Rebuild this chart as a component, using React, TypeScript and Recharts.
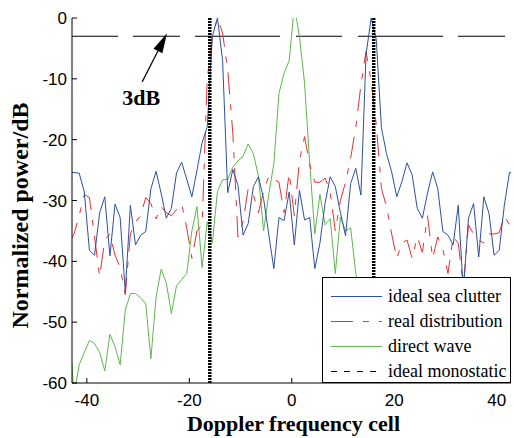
import React from "react";
import { LineChart, Line, XAxis, YAxis, ReferenceLine, Legend, Label } from "recharts";

// Doppler cells (half-cell grid)
const cells = [
  -43.5, -42.5, -41.5, -40.5, -39.5, -38.5, -37.5, -36.5, -35.5, -34.5,
  -33.5, -32.5, -31.5, -30.5, -29.5, -28.5, -27.5, -26.5, -25.5, -24.5,
  -23.5, -22.5, -21.5, -20.5, -19.5, -18.5, -17.5, -16.5, -15.5, -14.5,
  -13.5, -12.5, -11.5, -10.5, -9.5, -8.5, -7.5, -6.5, -5.5, -4.5,
  -3.5, -2.5, -1.5, -0.5, 0.5, 1.5, 2.5, 3.5, 4.5, 5.5,
  6.5, 7.5, 8.5, 9.5, 10.5, 11.5, 12.5, 13.5, 14.5, 15.5,
  16.5, 17.5, 18.5, 19.5, 20.5, 21.5, 22.5, 23.5, 24.5, 25.5,
  26.5, 27.5, 28.5, 29.5, 30.5, 31.5, 32.5, 33.5, 34.5, 35.5,
  36.5, 37.5, 38.5, 39.5, 40.5, 41.5, 42.5, 43.5,
];

const idealSeaClutter = [
  -25.3, -25.4, -25.5, -28.6, -38.2, -39, -32, -29.4, -39.1, -30.6,
  -32.8, -45, -30.8, -37.3, -35.7, -35.1, -28.1, -25.2, -28.8, -32.9,
  -31.3, -25.5, -23.7, -26.5, -29.4, -25, -20.5, -17.9, -3, 0,
  -7, -28.7, -24.9, -27.5, -35.7, -33.8, -27.7, -26.1, -29.7, -35.5,
  -41.2, -32.8, -33.3, -28.6, -37.3, -28.3, -33.2, -32.8, -41.2, -37,
  -30.5, -26.1, -27.7, -32, -35.8, -27.2, -24.7, -29.1, -6, 0,
  -3.5, -18, -22.3, -25.3, -29.4, -26.9, -23.8, -25.8, -31.3, -32.9,
  -28.8, -25.3, -28, -35.1, -35.7, -37.3, -30.8, -45, -32.9, -30.5,
  -39.3, -29.4, -32.1, -39, -38.2, -30.8, -25.4, -25.4,
];

const realDistribution = [
  -37, -35.5, -32.5, -29, -29.5, -36, -42.5, -36.5, -35.5, -39,
  -41, -45.5, -35.5, -33.5, -32.5, -29.5, -30.5, -33, -31, -32,
  -32.5, -31.5, -30.5, -34.5, -39.5, -35, -34, -10, -3, 0,
  -2.5, -8.5, -19, -36, -33.5, -28, -29, -32, -28.5, -26,
  -26.5, -27, -32, -25.5, -32.5, -23.5, -19.5, -24, -27, -27,
  -26.3, -28.5, -35, -30, -27, -23, -18, -11, -5.5, -10.5,
  -17.5, -28, -31, -35.5, -39.5, -37, -36.5, -39.5, -36, -38.5,
  -32.5, -39.5, -36, -38, -42, -36, -37, -44, -34, -35.5,
  -36.5, -37, -35.5, -35.5, -35.3, -32.5, -34, -36,
];

const directWave = [
  -50, -62, -57, -55, -53, -53.5, -55, -58, -52, -54,
  -57, -48, -45.3, -45.3, -46, -47, -56, -46, -41.3, -43.5,
  -48.6, -44, -43, -42, -35, -31, -41, -33.5, -37, -28.5,
  -26.6, -26.5, -24.5, -23.5, -22.7, -20.7, -22.3, -26, -35, -29,
  -24, -12.4, -9.1, -7, 2, -3, -10.7, -23.8, -35.5, -29,
  -34, -33, -42, -32.7, -35, -34.5, -42, -46, -48, -52,
  -49, -55, -51, -56, -53, -58, -54, -57, -52, -55,
  -59, -54, -57, -53, -56, -58, -55, -52, -57, -54,
  -58, -53, -55, -57, -54, -56, -53, -55,
];

const monostaticCells = [-16, 16];
const monostaticLevels = [-60, 0];
const threeDbLevel = -3;
const arrowTail = { x: -29.2, y: -10.5 };
const arrowTip = { x: -24.35, y: -2.5 };

const xTicks = [-40, -20, 0, 20, 40];
const yTicks = [0, -10, -20, -30, -40, -50, -60];
const xDomain = [-42.9, 42.8];
const yDomain = [-60, 0];

const BLUE = "#2f4fa6";
const RED = "#f02c2c";
const GREEN = "#5cb84a";
const SERIF = "'Liberation Serif', 'Times New Roman', serif";
const SANS = "'Liberation Sans', Arial, sans-serif";

const toSeries = (values: number[]) => cells.map((x, i) => ({ x, y: values[i] }));

const legendItems = [
  { name: "ideal sea clutter", color: BLUE, dash: undefined },
  { name: "real distribution", color: RED, dash: "22 10 6 10" },
  { name: "direct wave", color: GREEN, dash: undefined },
  { name: "ideal monostatic", color: "#000", dash: "6 7" },
];

function LegendBox() {
  return (
    <div
      style={{
        width: 189,
        height: 106,
        boxSizing: "border-box",
        border: "1px solid #000",
        background: "#fff",
        position: "relative",
      }}
    >
      {legendItems.map((item, i) => (
        <div
          key={item.name}
          style={{ position: "absolute", left: 0, top: 5.5 + i * 25, height: 25, display: "flex", alignItems: "center" }}
        >
          <svg width={60} height={25} style={{ display: "block" }}>
            <line x1={8} x2={59} y1={12.5} y2={12.5} stroke={item.color} strokeWidth={1} strokeDasharray={item.dash} />
          </svg>
          <span style={{ fontFamily: SERIF, fontSize: 18, marginLeft: 5, color: "#000", whiteSpace: "nowrap", lineHeight: "25px" }}>
            {item.name}
          </span>
        </div>
      ))}
    </div>
  );
}

const ArrowShape = (props: any) => {
  const { x1, y1, x2, y2 } = props;
  const dx = x2 - x1;
  const dy = y2 - y1;
  const len = Math.hypot(dx, dy);
  const ux = dx / len;
  const uy = dy / len;
  const headLen = 20;
  const headHalf = 5;
  const bx = x2 - ux * headLen;
  const by = y2 - uy * headLen;
  const px = -uy;
  const py = ux;
  return (
    <g>
      <line x1={x1} y1={y1} x2={bx} y2={by} stroke="#000" strokeWidth={1.2} />
      <polygon
        points={`${x2},${y2} ${bx + px * headHalf},${by + py * headHalf} ${bx - px * headHalf},${by - py * headHalf}`}
        fill="#000"
      />
      <text x={x1 - 20} y={y1 + 23} fontFamily={SERIF} fontWeight="bold" fontSize={22} fill="#000">
        3dB
      </text>
    </g>
  );
};

export default function App() {
  const monoLeft = monostaticLevels.map((y) => ({ x: monostaticCells[0], y }));
  const monoRight = monostaticLevels.map((y) => ({ x: monostaticCells[1], y }));
  const tickStyle = { fill: "#000", fontSize: 17, fontFamily: SANS };

  return (
    <div style={{ position: "absolute", left: 0, top: 0, background: "#fff" }}>
      <LineChart width={514} height={438} margin={{ top: 18, right: 3, bottom: 0, left: 0 }}>
        <XAxis
          xAxisId="b"
          type="number"
          dataKey="x"
          domain={xDomain}
          allowDataOverflow
          ticks={xTicks}
          interval={0}
          height={55}
          tickSize={-5}
          tickMargin={16}
          tick={tickStyle}
          axisLine={{ stroke: "#000" }}
          tickLine={{ stroke: "#000" }}
        >
          <Label
            content={(p: any) => (
              <text
                x={p.viewBox.x + p.viewBox.width / 2 + 2}
                y={p.viewBox.y + 48}
                textAnchor="middle"
                fontFamily={SERIF}
                fontWeight="bold"
                fontSize={22}
                fill="#000"
              >
                Doppler frequency cell
              </text>
            )}
          />
        </XAxis>
        <XAxis
          xAxisId="t"
          orientation="top"
          type="number"
          dataKey="x"
          domain={xDomain}
          allowDataOverflow
          ticks={xTicks}
          interval={0}
          height={0}
          tickSize={-5}
          tick={false}
          axisLine={{ stroke: "#000" }}
          tickLine={{ stroke: "#000" }}
        />
        <YAxis
          yAxisId="l"
          type="number"
          domain={yDomain}
          allowDataOverflow
          ticks={yTicks}
          interval={0}
          width={72}
          tickSize={-5}
          tickMargin={10}
          tick={tickStyle}
          axisLine={{ stroke: "#000" }}
          tickLine={{ stroke: "#000" }}
        >
          <Label
            content={(p: any) => {
              const cx = 28;
              const cy = p.viewBox.y + p.viewBox.height / 2 + 15;
              return (
                <text
                  x={cx}
                  y={cy}
                  transform={`rotate(-90 ${cx} ${cy})`}
                  textAnchor="middle"
                  fontFamily={SERIF}
                  fontWeight="bold"
                  fontSize={24}
                  fill="#000"
                >
                  Normalized power/dB
                </text>
              );
            }}
          />
        </YAxis>
        <YAxis
          yAxisId="r"
          orientation="right"
          type="number"
          domain={yDomain}
          allowDataOverflow
          ticks={yTicks}
          interval={0}
          width={0}
          tickSize={-5}
          tick={false}
          axisLine={{ stroke: "#000" }}
          tickLine={{ stroke: "#000" }}
        />

        <ReferenceLine
          xAxisId="b"
          yAxisId="l"
          y={threeDbLevel}
          stroke="#000"
          strokeWidth={1}
          strokeDasharray="46 15 47 15 85 16 46 16 85 15 47 15"
        />

        <Line
          xAxisId="b"
          yAxisId="l"
          data={toSeries(directWave)}
          dataKey="y"
          type="linear"
          stroke={GREEN}
          strokeWidth={1}
          dot={false}
          activeDot={false}
          isAnimationActive={false}
        />
        <Line
          xAxisId="b"
          yAxisId="l"
          data={toSeries(realDistribution)}
          dataKey="y"
          type="linear"
          stroke={RED}
          strokeWidth={1}
          strokeDasharray="22 10 6 10"
          dot={false}
          activeDot={false}
          isAnimationActive={false}
        />
        <Line
          xAxisId="b"
          yAxisId="l"
          data={toSeries(idealSeaClutter)}
          dataKey="y"
          type="linear"
          stroke={BLUE}
          strokeWidth={1}
          dot={false}
          activeDot={false}
          isAnimationActive={false}
        />
        <Line
          xAxisId="b"
          yAxisId="l"
          data={monoLeft}
          dataKey="y"
          type="linear"
          stroke="#000"
          strokeWidth={3.5}
          strokeDasharray="2 1"
          dot={false}
          activeDot={false}
          isAnimationActive={false}
        />
        <Line
          xAxisId="b"
          yAxisId="l"
          data={monoRight}
          dataKey="y"
          type="linear"
          stroke="#000"
          strokeWidth={3.5}
          strokeDasharray="2 1"
          dot={false}
          activeDot={false}
          isAnimationActive={false}
        />

        <ReferenceLine
          xAxisId="b"
          yAxisId="l"
          segment={[arrowTail, arrowTip]}
          shape={ArrowShape}
          ifOverflow="visible"
        />

        <Legend
          layout="horizontal"
          verticalAlign="middle"
          align="center"
          content={() => <LegendBox />}
          wrapperStyle={{ left: 322, top: 277, width: 189, height: 106 }}
        />
      </LineChart>
    </div>
  );
}
